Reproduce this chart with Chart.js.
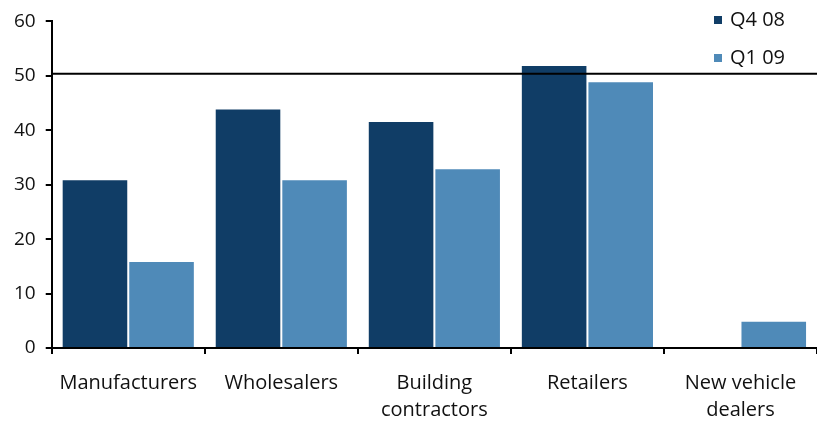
<!DOCTYPE html>
<html>
<head>
<meta charset="utf-8">
<script src="https://cdn.jsdelivr.net/npm/chart.js@4"></script>
<style>
  html, body { margin: 0; padding: 0; background: #fff; }
  #wrap { width: 817px; height: 424px; position: relative; }
</style>
</head>
<body>
<div id="wrap"><canvas id="barChart"></canvas></div>
<script>
// chart data
const categories = ['Manufacturers', 'Wholesalers', ['Building', 'contractors'], 'Retailers', ['New vehicle', 'dealers']];
const seriesNames = ['Q4 08', 'Q1 09'];
const q408 = [31, 44, 41.7, 52, null];
const q109 = [16, 31, 33, 49, 5];
const yTicks = [0, 10, 20, 30, 40, 50, 60];
const refLine = 50.4;

const darkBlue = '#103d66';
const lightBlue = '#4f8ab8';
const fontFamily = '"Open Sans", sans-serif';

// horizontal line across the plot
const refLinePlugin = {
  id: 'refLine',
  afterDatasetsDraw(chart) {
    const y = chart.scales.y.getPixelForValue(refLine);
    const c = chart.ctx;
    c.save();
    c.strokeStyle = '#000';
    c.lineWidth = 2;
    c.beginPath();
    c.moveTo(chart.chartArea.left, y);
    c.lineTo(chart.width, y);
    c.stroke();
    c.restore();
  }
};

// stacked legend in the top right corner
const cornerLegend = {
  id: 'cornerLegend',
  afterDraw(chart) {
    const c = chart.ctx;
    c.save();
    c.font = '20px ' + fontFamily;
    c.textBaseline = 'middle';
    chart.data.datasets.forEach(function (ds, i) {
      const yMid = 20 + i * 38;
      c.fillStyle = ds.backgroundColor;
      c.fillRect(714, yMid - 4, 8, 8);
      c.fillStyle = '#111';
      c.fillText(ds.label, 730, yMid);
    });
    c.restore();
  }
};

const ctx = document.getElementById('barChart').getContext('2d');
const barChart = new Chart(ctx, {
  type: 'bar',
  data: {
    labels: categories,
    datasets: [{
      label: seriesNames[0],
      data: q408,
      backgroundColor: darkBlue,
      borderColor: '#fff',
      borderWidth: 1
    }, {
      label: seriesNames[1],
      data: q109,
      backgroundColor: lightBlue,
      borderColor: '#fff',
      borderWidth: 1
    }]
  },
  options: {
    responsive: true,
    maintainAspectRatio: false,
    animation: false,
    layout: { padding: { left: 4, right: -4, top: 9, bottom: 0 } },
    datasets: { bar: { categoryPercentage: 0.87, barPercentage: 1 } },
    plugins: {
      legend: { display: false },
      tooltip: { enabled: false }
    },
    scales: {
      x: {
        afterFit(axis) { axis.height = 76; },
        grid: { drawOnChartArea: false, drawTicks: true, tickLength: 6, color: '#000', lineWidth: 2, offset: true },
        border: { display: true, color: '#000', width: 2 },
        ticks: { color: '#111', padding: 16, maxRotation: 0, font: { family: fontFamily, size: 20, lineHeight: 1.35 } }
      },
      y: {
        min: yTicks[0],
        max: yTicks[yTicks.length - 1],
        afterBuildTicks(axis) { axis.ticks = yTicks.map(v => ({ value: v })); },
        grid: { drawOnChartArea: false, drawTicks: true, tickLength: 6, color: '#000', lineWidth: 2 },
        border: { display: true, color: '#000', width: 2 },
        ticks: { color: '#111', padding: 10, font: { family: fontFamily, size: 19 } }
      }
    }
  },
  plugins: [refLinePlugin, cornerLegend]
});
</script>
</body>
</html>
